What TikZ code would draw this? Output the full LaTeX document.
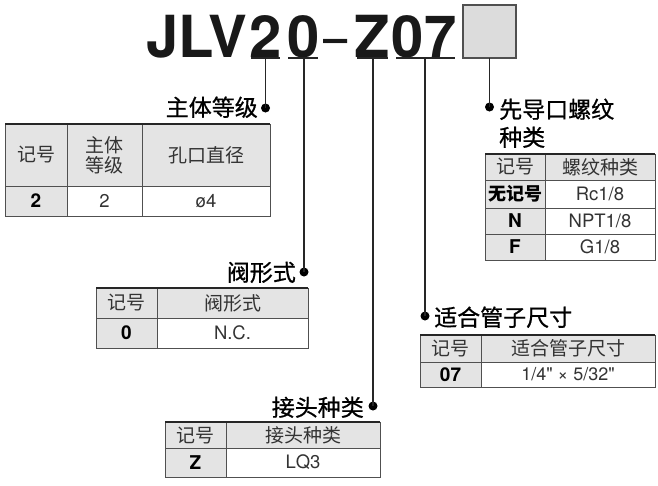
\documentclass[tikz,border=0pt]{standalone}
\usepackage{fontspec}
\setmainfont{TeX Gyre Heros}
\newfontfamily\heros{TeX Gyre Heros}
\newfontfamily\cjk{Noto Sans CJK SC}
\newfontfamily\cjklab[FakeBold=0.8]{Noto Sans CJK SC}
\definecolor{cellgrey}{HTML}{E4E4E4}
\definecolor{boxgrey}{HTML}{DCDCDC}
\definecolor{linegrey}{HTML}{505050}
\definecolor{txt}{HTML}{333333}
\begin{document}
\begin{tikzpicture}[x=1pt,y=-1pt,
  cell/.style={draw=linegrey, line width=0.8pt, inner sep=0pt, outer sep=0pt,
    anchor=north west, text=txt, align=center, font=\fontsize{18.5}{20}\selectfont},
  hd/.style={cell, fill=cellgrey, font=\cjk\fontsize{19}{20}\selectfont},
  key/.style={cell, fill=cellgrey, font=\bfseries\fontsize{19}{20}\selectfont, text=black},
  keycjk/.style={cell, fill=cellgrey, font=\cjk\bfseries\fontsize{18}{20}\selectfont, text=black},
  val/.style={cell, fill=white},
  lab/.style={font=\cjklab\fontsize{23}{28}\selectfont, inner sep=0pt, text=black},
  dotmark/.style={circle, fill=black, inner sep=0pt, minimum size=9pt},
  lead/.style={line width=1.6pt, draw=black!85},
  topline/.style={line width=2pt, draw=black!85},
  title/.style={font=\bfseries\fontsize{58}{58}\selectfont, anchor=base, inner sep=0pt, text=black!90},
]
\useasboundingbox (0,0) rectangle (658,485);

% ---------- title ----------
\node[title] (tJLV) at (197,57) {JLV};
\node[title] (t2) at (266,57) {2};
\node[title] (t0) at (304,57) {0};
\node[title, font=\fontsize{58}{58}\selectfont] (tdash) at (336,57) {\scalebox{0.75}[1]{–}};
\node[title] (tZ) at (372,57) {Z};
\node[title] (t07) at (424,57) {07};
\node[draw=linegrey, line width=1.4pt, fill=boxgrey, minimum width=53pt, minimum height=53pt,
      anchor=north west, inner sep=0pt, outer sep=0pt] (box) at (463,5) {};

% underlines
\draw[lead] (251,58) -- (280,58);
\draw[lead] (288,58) -- (318,58);
\draw[lead] (357,58) -- (388,58);
\draw[lead] (396,58) -- (455,58);

\coordinate (u2) at (265.5,58);
\coordinate (u0) at (304,58);
\coordinate (uZ) at (373,58);
\coordinate (u07) at (425,58);

% dots
\node[dotmark] (d2) at (265.5,108) {};
\node[dotmark] (d0) at (304,272) {};
\node[dotmark] (dZ) at (373,406) {};
\node[dotmark] (d07) at (425,316) {};
\node[dotmark] (dbox) at (489.5,107) {};

\draw[lead] (u2) -- (d2.center);
\draw[lead] (u0) -- (d0.center);
\draw[lead] (uZ) -- (dZ.center);
\draw[lead] (u07) -- (d07.center);
\draw[lead] (box.south) -- (dbox.center);

% labels
\node[lab, anchor=base east] (l2) at (258,116) {主体等级};
\node[lab, anchor=base east] (l0) at (296,281) {阀形式};
\node[lab, anchor=base east] (lZ) at (364,416) {接头种类};
\node[lab, anchor=base west] (l07) at (434,326) {适合管子尺寸};
\node[lab, anchor=base west, align=left] (lbox) at (499,146) {先导口螺纹\\种类};

% ---------- table: 主体等级 ----------
\node[hd, minimum width=62pt, minimum height=62pt] (a11) at (5,124) {记号};
\node[hd, minimum width=75pt, minimum height=62pt] (a12) at (67,124) {主体\\等级};
\node[hd, minimum width=128pt, minimum height=62pt] (a13) at (142,124) {孔口直径};
\node[key, minimum width=62pt, minimum height=30pt] (a21) at (5,186) {2};
\node[val, minimum width=75pt, minimum height=30pt] (a22) at (67,186) {2};
\node[val, minimum width=128pt, minimum height=30pt] (a23) at (142,186) {ø4};
\draw[topline] (a11.north west) -- (a13.north east);

% ---------- table: 阀形式 ----------
\node[hd, minimum width=61pt, minimum height=30pt] (b11) at (96,288) {记号};
\node[hd, minimum width=151pt, minimum height=30pt] (b12) at (157,288) {阀形式};
\node[key, minimum width=61pt, minimum height=30pt] (b21) at (96,318) {0};
\node[val, minimum width=151pt, minimum height=30pt] (b22) at (157,318) {N.C.};
\draw[topline] (b11.north west) -- (b12.north east);

% ---------- table: 先导口螺纹种类 ----------
\node[hd, minimum width=60pt, minimum height=26pt] (c11) at (485,154) {记号};
\node[hd, minimum width=110pt, minimum height=26pt] (c12) at (545,154) {螺纹种类};
\node[keycjk, minimum width=60pt, minimum height=28pt] (c21) at (485,180) {无记号};
\node[val, minimum width=110pt, minimum height=28pt] (c22) at (545,180) {Rc1/8};
\node[key, minimum width=60pt, minimum height=26pt] (c31) at (485,208) {N};
\node[val, minimum width=110pt, minimum height=26pt] (c32) at (545,208) {NPT1/8};
\node[key, minimum width=60pt, minimum height=26pt] (c41) at (485,234) {F};
\node[val, minimum width=110pt, minimum height=26pt] (c42) at (545,234) {G1/8};
\draw[topline] (c11.north west) -- (c12.north east);

% ---------- table: 适合管子尺寸 ----------
\node[hd, minimum width=61pt, minimum height=27pt] (e11) at (420,335) {记号};
\node[hd, minimum width=174pt, minimum height=27pt] (e12) at (481,335) {适合管子尺寸};
\node[key, minimum width=61pt, minimum height=25pt] (e21) at (420,362) {07};
\node[val, minimum width=174pt, minimum height=25pt, font=\heros\fontsize{18}{20}\selectfont] (e22) at (481,362) {1/4" × 5/32"};
\draw[topline] (e11.north west) -- (e12.north east);

% ---------- table: 接头种类 ----------
\node[hd, minimum width=61pt, minimum height=26pt] (f11) at (165,422) {记号};
\node[hd, minimum width=154pt, minimum height=26pt] (f12) at (226,422) {接头种类};
\node[key, minimum width=61pt, minimum height=29pt] (f21) at (165,448) {Z};
\node[val, minimum width=154pt, minimum height=29pt] (f22) at (226,448) {LQ3};
\draw[topline] (f11.north west) -- (f12.north east);
\end{tikzpicture}
\end{document}
